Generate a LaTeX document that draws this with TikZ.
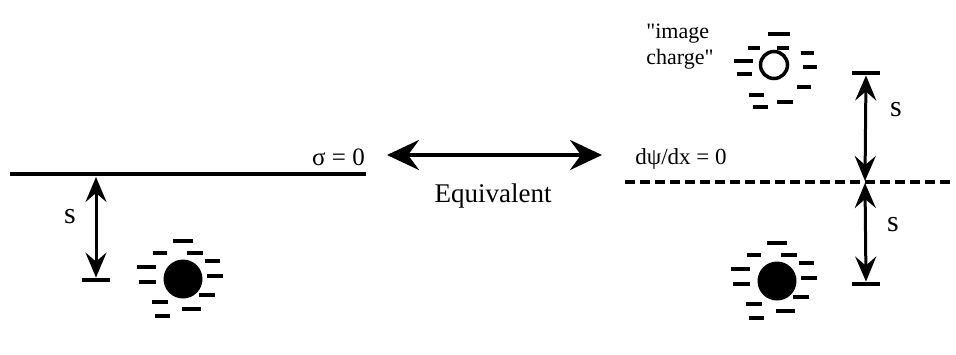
\documentclass[tikz,border=0pt]{standalone}
\usepackage{fontspec}
\setmainfont{Liberation Serif}
\usetikzlibrary{arrows.meta,positioning,calc}

% dashes (negative charges) round a particle node
\newcommand{\negcloud}[2]{%
  \foreach \dx/\dy/\len in #2
    \draw[negdash] ($(#1)+(\dx-\len/2,\dy)$) -- ++(\len,0);}
\newcommand{\cloudA}{0/-38/20, -23/-26/14, 12/-26/16, 29/-18/15, -37/-12/19, 32/-3/16, -36/3/17, 24/16/16, -23/23/16, 8/30/19, -21/37/15}
\newcommand{\cloudB}{5/-31/22, -20/-17/12, 9/-17/12, 33/-12/13, -31/-4/19, 36/2/14, -30/9/15, 30/22/14, -18/30/15, 11/37/16, -14/42/15}

\begin{document}
\begin{tikzpicture}[
    x=1pt, y=-1pt,
    negdash/.style={line width=4pt},
    bar/.style={fill, inner sep=0pt, minimum width=28pt, minimum height=4.5pt},
    ion/.style={circle, fill, inner sep=0pt, minimum size=39pt},
    imageion/.style={circle, draw, line width=3.5pt, inner sep=0pt, minimum size=27pt},
    dist/.style={{Stealth[length=25pt,width=21pt,inset=9pt]}-{Stealth[length=25pt,width=21pt,inset=9pt]}, line width=3pt},
    equivarrow/.style={{Stealth[length=32pt,width=30pt,inset=11pt]}-{Stealth[length=32pt,width=30pt,inset=11pt]}, line width=4pt},
    lbl/.style={inner sep=0pt, font=\fontsize{25}{28}\selectfont}
  ]
  \useasboundingbox (0,0) rectangle (956,354);

  % left: uncharged surface
  \coordinate (lineL) at (10,174);
  \coordinate (lineR) at (366,174);
  \draw[line width=3.5pt] (lineL) -- (lineR);
  \node[lbl, anchor=south east] (sigma) at (365,166) {σ = 0};
  \node[bar] (barL) at (96,280) {};
  \coordinate (topL) at (96,177);
  \draw[dist] (topL) -- (barL.north);
  \node[lbl, font=\fontsize{30}{32}\selectfont] (sL) at (70,217) {s};
  \node[ion] (chargeL) at (183,279) {};
  \negcloud{chargeL}{\cloudA}

  % middle
  \coordinate (eqL) at (387,155);
  \coordinate (eqR) at (602,155);
  \draw[equivarrow] (eqL) -- (eqR);
  \node[lbl, font=\fontsize{27}{30}\selectfont] (equiv) at (493,196) {Equivalent};

  % right: mirror plane with image charge
  \coordinate (dashL) at (625,182);
  \coordinate (dashR) at (952,182);
  \coordinate (mid) at (865,182);
  \draw[line width=3.5pt, dash pattern=on 10pt off 5pt] (dashL) -- (dashR);
  \node[lbl, font=\fontsize{23}{26}\selectfont, anchor=south] (dpsi) at (681,170) {dψ/dx = 0};
  \node[bar] (barTop) at (866,73) {};
  \node[bar] (barBot) at (866,284) {};
  \draw[dist] (barTop.south) -- ($(mid)+(0,-1)$);
  \draw[dist] ($(mid)+(0,1)$) -- (barBot.north);
  \node[lbl, font=\fontsize{30}{32}\selectfont] (sTop) at (896,110) {s};
  \node[lbl, font=\fontsize{30}{32}\selectfont] (sBot) at (893,225) {s};
  \node[imageion] (image) at (774,65) {};
  \negcloud{image}{\cloudB}
  \node[lbl, font=\fontsize{22}{26}\selectfont, align=left] (imgtxt) at (680,47) {\textquotedbl image\\charge\textquotedbl};
  \node[ion] (chargeR) at (777,281) {};
  \negcloud{chargeR}{\cloudA}
\end{tikzpicture}
\end{document}
